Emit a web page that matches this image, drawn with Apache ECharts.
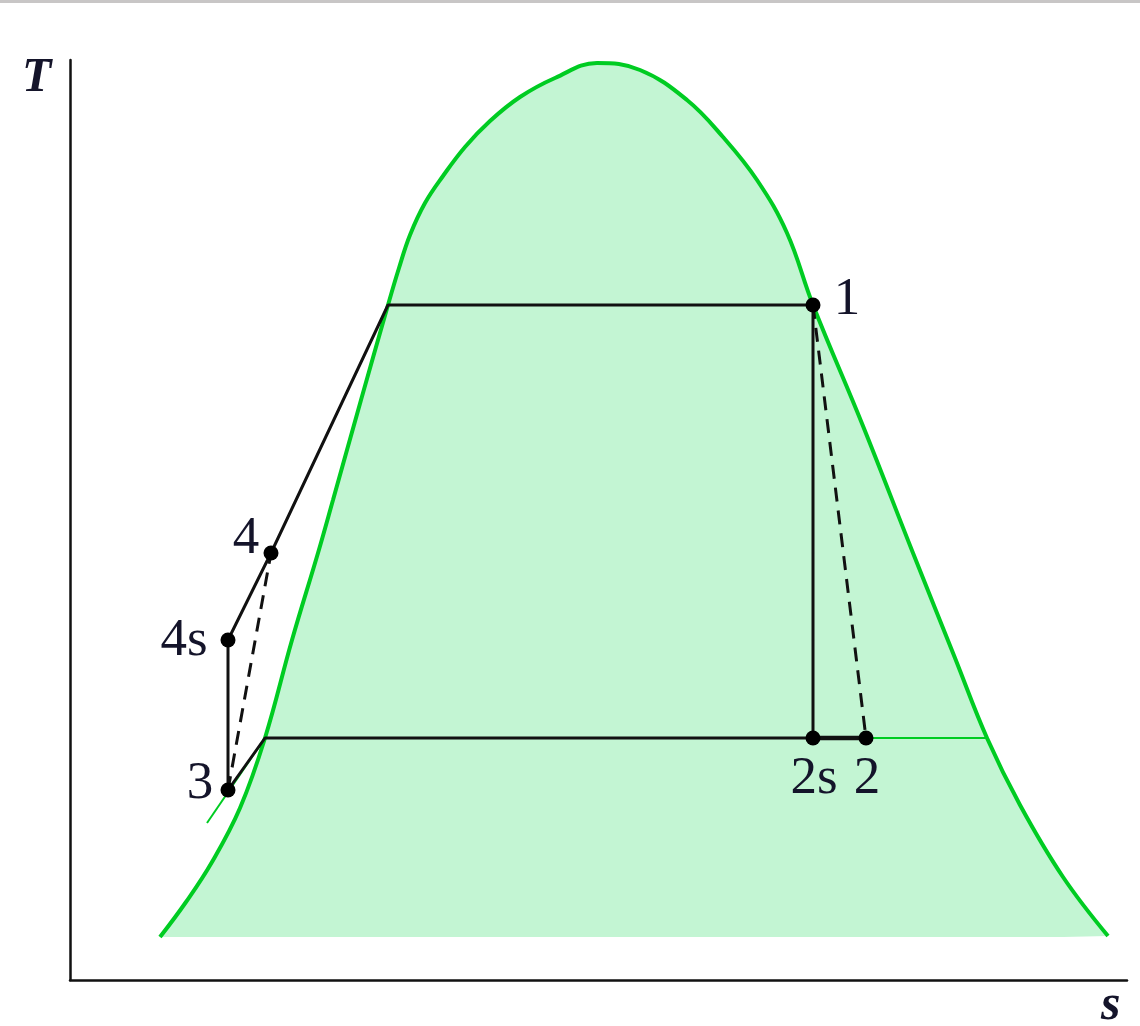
<!DOCTYPE html>
<html>
<head>
<meta charset="utf-8">
<script src="https://cdn.jsdelivr.net/npm/echarts@6/dist/echarts.min.js"></script>
<style>
html,body{margin:0;padding:0;background:#fff;}
#c{width:1140px;height:1026px;}
</style>
</head>
<body>
<div id="c"></div>
<script>
// Saturation dome (entropy s, temperature T)
const domeS = [0.90,1.16,1.42,1.70,1.95,2.22,2.48,2.63,2.91,3.18,3.29,3.40,3.55,3.73,3.95,4.20,4.50,4.85,5.27,5.70,6.17,6.53,6.87,7.17,7.43,7.93,8.43,8.85,9.17,9.50,9.93,10.38];
const domeT = [0.43,0.78,1.18,1.72,2.42,3.40,4.27,4.80,5.80,6.75,7.12,7.45,7.77,8.04,8.33,8.59,8.83,9.02,9.17,9.10,8.80,8.43,8.00,7.47,6.75,5.54,4.27,3.22,2.42,1.75,1.03,0.44];
const domeBaseT = 0.43;

// Cycle state points
const stateNames = ['1','2s','2','3','4s','4'];
const stateS = [7.43,7.43,7.96,1.58,1.58,2.01];
const stateT = [6.75,2.42,2.42,1.90,3.40,4.27];

// Saturated liquid points on the dome
const satLiqHigh = [3.18,6.75];
const satLiqLow = [1.95,2.42];
// Constant-pressure extensions
const lowIsobarEnd = [9.18,2.42];
const liquidLineStart = [1.37,1.57];

const axisMaxS = 10.57, axisMaxT = 9.2;

function st(name){ const i = stateNames.indexOf(name); return [stateS[i], stateT[i]]; }

const solidPath = [st('3'), satLiqLow, st('2s'), st('1'), satLiqHigh, st('4'), st('4s'), st('3')];
const dashA = [st('3'), st('4')];
const dashB = [st('1'), st('2')];
const seg2s2 = [st('2s'), st('2')];

const labelOffsets = {'1':[34,-5],'2s':[1,41],'2':[1,41],'3':[-28,-6],'4s':[-44,1],'4':[-25,-14]};

const chart = echarts.init(document.getElementById('c'));
const black = '#111';
const green = '#00cc22';
const textCol = '#14142a';
const serif = 'Liberation Serif';

const baseGraphic = [
  {type:'rect', left:0, top:0, shape:{width:1140,height:3}, style:{fill:'#c8c6c6'}},
  {type:'text', left:22, top:55, style:{text:'T', fontFamily:serif, fontStyle:'italic', fontWeight:'bold', fontSize:48, fill:textCol}},
  {type:'text', left:1101, top:981, style:{text:'s', fontFamily:serif, fontStyle:'italic', fontWeight:'bold', fontSize:50, fill:textCol}}
];

chart.setOption({
  animation:false,
  backgroundColor:'#fff',
  grid:{left:70, top:60, width:1057, height:920},
  xAxis:{type:'value', min:0, max:axisMaxS, axisLine:{show:true,onZero:false,lineStyle:{color:black,width:2.5}}, axisTick:{show:false}, axisLabel:{show:false}, splitLine:{show:false}},
  yAxis:{type:'value', min:0, max:axisMaxT, axisLine:{show:true,onZero:false,lineStyle:{color:black,width:2.5}}, axisTick:{show:false}, axisLabel:{show:false}, splitLine:{show:false}},
  graphic:baseGraphic,
  series:[
    {type:'line', data:domeS.map((s,i)=>[s,domeT[i]]), smooth:0.4, showSymbol:false,
     lineStyle:{color:green,width:4}, areaStyle:{color:'#c3f5d3',opacity:1,origin:domeBaseT}, z:1},
    {type:'line', data:[st('2'), lowIsobarEnd], showSymbol:false, lineStyle:{color:green,width:2}, z:2},
    {type:'line', data:[liquidLineStart, satLiqLow], showSymbol:false, lineStyle:{color:green,width:2}, z:2},
    {type:'line', data:solidPath, showSymbol:false, lineStyle:{color:black,width:3}, z:3},
    {type:'line', data:seg2s2, showSymbol:false, lineStyle:{color:black,width:4.5}, z:3},
    {type:'line', data:dashA, showSymbol:false, lineStyle:{color:black,width:3,type:[14,9]}, z:3},
    {type:'line', data:dashB, showSymbol:false, lineStyle:{color:black,width:3,type:[14,9]}, z:3},
    {type:'scatter', symbolSize:15, itemStyle:{color:'#000', opacity:1}, z:4,
     data:stateNames.map((n,i)=>({value:[stateS[i],stateT[i]], name:n}))}
  ]
});

// State labels placed from the data points through the chart's own scales
const labelGraphic = stateNames.map((n,i)=>{
  const p = chart.convertToPixel({gridIndex:0},[stateS[i],stateT[i]]);
  const o = labelOffsets[n];
  return {type:'text', x:p[0]+o[0], y:p[1]+o[1], z:10,
          style:{text:n, fontFamily:serif, fontSize:53, fill:textCol, align:'center', verticalAlign:'middle', textAlign:'center', textVerticalAlign:'middle'}};
});
chart.setOption({graphic: baseGraphic.concat(labelGraphic)});
</script>
</body>
</html>
